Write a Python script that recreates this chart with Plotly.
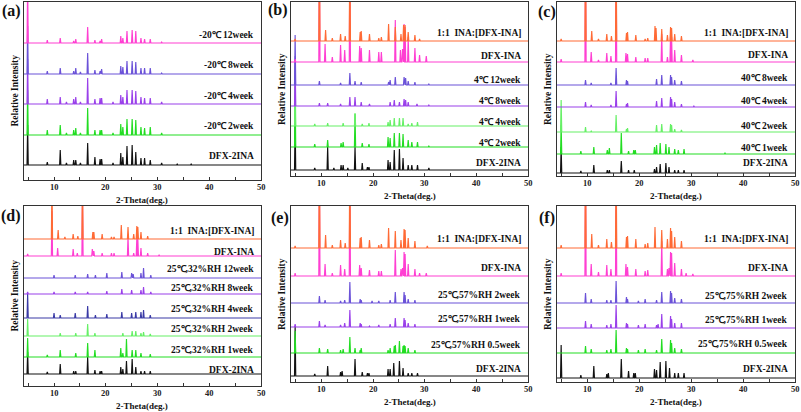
import plotly.graph_objects as go

W, H = 801, 412
FONT = "Liberation Serif"
XMIN, XMAX = 4.1, 50
TICK_LABELS = [10, 20, 30, 40, 50]

# ---------------- data: (2-theta, relative intensity) peaks ----------------
# panel (a)
a_dfx2ina = [(4.9,40),(8.7,3),(11.2,15),(12.4,2),(13.8,5),(14.2,5),(15.1,2),(16.5,22),(17.9,8),(18.9,6),(19.2,6),(21.4,2),(22.9,12),(23.3,8),(24.1,19),(25.1,20),(25.8,13),(26.8,7),(27.5,7),(28.6,5),(30.8,2),(33.8,1),(36.5,1)]
a_m20_2w = [(4.9,45),(8.7,5),(11.2,10),(12.4,2),(13.8,5),(14.2,7),(15.1,2),(16.5,27),(17.9,5),(18.9,5),(19.2,5),(21.4,2),(22.9,11),(23.3,8),(24.1,16),(25.1,16),(25.8,15),(26.8,8),(27.5,7),(28.6,8),(30.8,2)]
a_m20_4w = [(4.9,45),(8.7,5),(11.2,7),(12.4,2),(13.8,5),(14.2,7),(15.1,2),(16.5,26),(17.9,5),(18.9,6),(19.2,6),(21.4,2),(22.9,9),(23.3,7),(24.1,14),(25.1,14),(25.8,13),(26.8,7),(27.5,6),(28.6,6),(30.8,2)]
a_m20_8w = [(4.9,48),(8.7,3),(11.2,6),(13.8,3),(14.2,6),(15.1,2),(16.5,21),(17.9,4),(18.9,3),(19.2,5),(22.9,8),(23.3,7),(24.1,13),(25.1,13),(25.8,12),(26.8,6),(27.5,6),(28.6,6),(30.8,1)]
a_m20_12w = [(4.9,60),(8.7,3),(11.2,5),(13.8,2),(14.2,4),(16.5,16),(17.9,3),(18.9,2),(19.2,4),(22.9,7),(23.3,5),(24.1,12),(25.1,13),(25.8,12),(26.8,5),(27.5,4),(28.6,4),(30.8,1)]
a_labels = ["DFX-2INA", "-20℃ 2week", "-20℃ 4week", "-20℃ 8week", "-20℃ 12week"]

# panel (b)
b_dfx2ina = [(4.9,50),(8.7,2),(11.2,23),(12.4,2),(13.8,5),(14.2,5),(15.1,2),(16.5,23),(17.9,7),(18.9,3),(19.2,3),(22.9,10),(23.3,8),(24.1,20),(25.1,21),(25.8,12),(26.8,5),(27.5,5),(28.6,5),(30.8,2)]
b_4c_2w = [(4.9,60),(8.7,3),(11.2,7),(13.8,4),(14.2,5),(16.5,33),(17.9,4),(19.2,3),(22.9,10),(23.3,9),(24.1,14),(25.1,14),(25.8,13),(26.8,7),(27.5,5),(28.6,5),(30.8,1)]
b_4c_4w = [(4.9,60),(8.7,2),(11.2,3),(14.2,3),(16.5,13),(17.9,2),(19.2,3),(22.9,4),(23.3,6),(24.1,8),(25.1,8),(25.8,8),(26.8,2),(27.5,3),(28.6,4)]
b_4c_8w = [(4.9,50),(9.6,3),(11.2,3),(13.7,2),(15.5,9),(16.5,9),(17.7,4),(19.3,2),(23.3,4),(24.1,6),(25.1,4),(26.0,7),(26.3,6),(26.8,4),(28.5,2),(30.8,1)]
b_4c_12w = [(4.9,50),(9.6,4),(13.7,2),(15.5,12),(16.5,4),(17.7,3),(23.0,3),(23.3,5),(24.3,8),(26.0,8),(26.3,7),(26.8,4),(28.1,3),(30.8,1)]
b_dfxina = [(4.9,3),(9.6,100),(10.7,18),(12.1,5),(13.7,17),(14.5,12),(15.5,100),(17.4,16),(17.7,14),(19.3,12),(21.1,10),(21.6,10),(24.3,42),(25.3,12),(25.7,13),(26.0,38),(26.2,35),(26.8,25),(28.1,14),(29.0,7),(30.3,6)]
b_ina_11 = [(4.9,2),(9.6,100),(10.8,11),(12.1,3),(13.7,7),(14.6,5),(15.5,100),(17.5,9),(17.7,10),(19.3,7),(21.1,3),(21.6,4),(23.0,17),(24.3,14),(25.4,7),(25.9,16),(26.2,16),(26.8,9),(28.1,6),(29.0,2)]
b_labels = ["DFX-2INA", "4℃ 2week", "4℃ 4week", "4℃ 8week", "4℃ 12week", "DFX-INA", "1:1\u00a0 INA:[DFX-INA]"]

# panel (c)
c_dfx2ina = [(4.9,26),(8.7,2),(11.2,8),(13.8,3),(14.2,3),(16.5,12),(17.9,3),(19.0,3),(22.9,4),(23.3,6),(24.0,9),(25.1,10),(25.7,6),(26.8,3),(27.5,3),(28.6,3)]
c_40c_1w = [(4.9,29),(8.7,3),(11.2,7),(13.8,4),(14.2,6),(16.5,21),(17.9,3),(18.9,4),(19.2,4),(22.9,7),(23.3,9),(24.0,11),(25.1,10),(25.7,7),(26.8,5),(27.5,4),(28.6,5),(36.5,1)]
c_40c_2w = [(4.9,32),(9.6,5),(10.7,1),(15.5,17),(17.5,3),(17.7,4),(23.3,7),(24.3,8),(26.0,8),(26.2,7),(26.8,3),(28.1,2)]
c_40c_4w = [(9.6,5),(10.7,2),(14.5,2),(15.5,16),(17.5,3),(17.7,4),(23.3,6),(24.3,9),(26.0,10),(26.2,8),(26.8,5),(28.1,3),(30.5,1)]
c_40c_8w = [(9.6,5),(10.7,2),(14.5,2),(15.5,17),(17.5,5),(17.7,4),(23.3,6),(24.3,10),(26.0,10),(26.2,8),(26.8,5),(28.1,4)]
c_dfxina = [(4.9,3),(9.6,100),(10.7,10),(12.1,2),(13.7,9),(14.5,6),(15.5,100),(17.4,9),(17.7,8),(19.3,5),(21.1,4),(21.6,4),(24.3,28),(25.4,5),(26.0,27),(26.2,25),(26.8,12),(28.1,7),(30.3,2)]
c_ina_11 = [(4.9,2),(9.6,100),(10.8,10),(12.1,2),(13.7,7),(14.6,5),(15.5,100),(17.5,8),(17.7,9),(19.3,6),(21.1,2),(21.6,3),(23.0,15),(23.2,13),(24.3,12),(25.4,6),(26.0,14),(26.2,13),(26.8,7),(28.1,5)]
c_labels = ["DFX-2INA", "40℃ 1week", "40℃ 2week", "40℃ 4week", "40℃ 8week", "DFX-INA", "1:1\u00a0 INA:[DFX-INA]"]

# panel (d)
d_dfx2ina = [(4.9,22),(8.7,2),(11.2,10),(13.8,3),(14.2,3),(16.5,17),(17.9,4),(18.9,3),(19.2,3),(22.9,7),(23.3,5),(24.0,13),(25.1,15),(25.8,7),(26.8,3),(27.5,3),(28.6,3)]
d_32_1w = [(4.9,19),(8.7,2),(11.2,7),(14.2,4),(16.5,14),(17.9,7),(22.9,9),(23.3,4),(24.0,18),(25.1,7),(25.8,7),(26.8,4),(28.6,3)]
d_32_2w = [(4.9,17),(11.2,3),(14.2,3),(16.5,12),(17.9,3),(23.3,3),(25.1,5),(25.8,5),(26.8,3),(27.3,4),(28.6,2)]
d_32_4w = [(4.9,24),(10.0,5),(11.2,3),(14.1,5),(16.5,12),(18.0,3),(20.2,4),(23.1,6),(25.0,5),(25.8,6),(26.8,6),(27.3,8),(28.6,3)]
d_32_8w = [(4.9,2),(10.0,2),(14.1,2),(16.5,2),(20.2,3),(23.1,5),(25.0,4),(26.8,4),(27.3,7),(28.7,2)]
d_32_12w = [(10.0,3),(14.1,3),(16.5,4),(18.0,3),(20.2,5),(23.1,6),(25.0,5),(25.3,4),(26.8,5),(27.3,10),(28.7,3)]
d_dfxina = [(4.9,2),(9.6,45),(10.7,8),(13.7,7),(14.5,3),(15.5,60),(17.4,7),(17.7,5),(19.3,3),(21.1,3),(21.6,3),(24.3,20),(25.4,3),(26.0,18),(26.2,17),(26.8,8),(28.1,3),(30.3,1)]
d_ina_11 = [(9.6,60),(10.8,9),(12.1,2),(13.7,5),(14.6,3),(15.5,60),(17.5,7),(17.7,7),(19.3,5),(21.1,2),(21.6,2),(23.0,14),(24.3,12),(25.4,5),(26.0,13),(26.2,12),(26.8,7),(28.1,3)]
d_labels = ["DFX-2INA", "25℃,32%RH 1week", "25℃,32%RH 2week", "25℃,32%RH 4week", "25℃,32%RH 8week",
            "25℃,32%RH 12week", "DFX-INA", "1:1\u00a0 INA:[DFX-INA]"]

# panel (e)
e_dfx2ina = [(4.9,50),(8.7,2),(11.2,10),(13.7,4),(14.0,5),(16.5,17),(17.9,4),(18.9,3),(19.2,3),(22.9,7),(23.3,7),(24.0,13),(25.1,15),(25.8,8),(26.8,3),(27.5,3),(28.6,3)]
e_57_05w = [(4.9,22),(9.6,5),(11.2,4),(13.7,3),(14.2,4),(15.5,16),(16.5,5),(17.5,3),(17.7,5),(22.9,3),(23.3,5),(24.1,7),(24.3,8),(25.1,12),(25.8,7),(26.0,8),(26.2,7),(26.8,5),(28.1,3)]
e_57_1w = [(4.9,3),(9.6,6),(10.7,2),(13.7,2),(14.5,4),(15.5,17),(17.5,4),(17.7,3),(19.3,1),(21.1,2),(23.3,3),(24.3,9),(26.0,9),(26.2,7),(26.8,4),(28.1,3)]
e_57_2w = [(9.6,7),(10.7,3),(13.7,2),(14.5,3),(15.5,21),(17.5,4),(17.7,3),(19.8,2),(21.1,2),(23.3,3),(24.3,11),(26.0,11),(26.2,8),(26.8,4),(28.1,3)]
e_dfxina = [(4.9,3),(9.6,100),(10.7,12),(12.1,3),(13.7,11),(14.5,7),(15.5,100),(17.4,11),(17.7,8),(19.3,6),(21.1,5),(21.6,5),(24.3,26),(25.4,7),(25.7,8),(26.0,24),(26.2,22),(26.8,12),(28.1,7),(29.0,3),(30.3,3)]
e_ina_11 = [(4.9,2),(9.6,100),(10.8,13),(12.1,3),(13.7,8),(14.6,5),(15.5,100),(17.5,10),(17.7,11),(19.3,8),(21.1,3),(21.6,4),(23.0,20),(24.3,17),(25.4,8),(26.0,19),(26.2,18),(26.8,10),(28.1,7),(30.5,2)]
e_labels = ["DFX-2INA", "25℃,57%RH 0.5week", "25℃,57%RH 1week", "25℃,57%RH 2week", "DFX-INA", "1:1\u00a0 INA:[DFX-INA]"]

# panel (f)
f_dfx2ina = [(4.9,33),(8.7,3),(11.2,12),(13.7,4),(14.0,5),(16.5,19),(17.9,7),(18.9,5),(19.2,5),(22.9,9),(23.3,8),(24.0,16),(25.1,17),(25.8,10),(26.8,5),(27.5,5),(28.6,5)]
f_75_05w = [(9.6,7),(10.7,4),(13.7,3),(14.5,4),(15.5,23),(17.5,5),(17.7,4),(19.8,3),(21.1,4),(23.3,3),(24.3,14),(26.0,13),(26.2,10),(26.8,5),(28.1,4)]
f_75_1w = [(9.6,7),(10.7,4),(13.7,3),(14.5,4),(15.5,23),(17.5,5),(17.7,4),(19.8,3),(21.1,4),(23.3,3),(23.6,4),(24.3,14),(26.0,12),(26.2,9),(26.8,5),(28.1,5)]
f_75_2w = [(9.6,10),(10.7,4),(13.7,3),(14.5,3),(15.5,22),(17.5,6),(17.7,4),(19.8,2),(21.1,4),(23.3,3),(24.3,11),(26.0,12),(26.2,10),(26.8,5),(28.1,4)]
f_dfxina = [(4.9,3),(9.6,100),(10.7,12),(12.1,4),(13.7,11),(14.5,7),(15.5,100),(17.4,12),(17.7,9),(19.3,7),(21.1,5),(21.6,6),(24.3,35),(25.4,7),(25.7,8),(26.0,24),(26.2,23),(26.8,13),(28.1,7),(29.0,3),(30.3,2)]
f_ina_11 = [(4.9,3),(9.6,100),(10.8,14),(12.1,3),(13.7,9),(14.6,6),(15.5,100),(17.5,11),(17.7,12),(19.3,9),(21.1,4),(21.6,5),(23.0,21),(24.3,18),(25.4,9),(26.0,20),(26.2,17),(26.8,11),(28.1,7)]
f_labels = ["DFX-2INA", "25℃,75%RH 0.5week", "25℃,75%RH 1week", "25℃,75%RH 2week", "DFX-INA", "1:1\u00a0 INA:[DFX-INA]"]

# ---------------- styles / layout ----------------
BLACK, GREEN, LGREEN = "#111111", "#22dd22", "#66f066"
PURPLE, BVIOLET, NAVY = "#9a40ea", "#6b52d8", "#3a3aa6"
PINK, ORANGE = "#ff3fd2", "#ff6a35"

PANELS = [
    dict(tag="(a)", box=(23.5, 2, 261, 180), tagpos=(11, 11),
         series=[a_dfx2ina, a_m20_2w, a_m20_4w, a_m20_8w, a_m20_12w], labels=a_labels,
         colors=[BLACK, GREEN, PURPLE, BVIOLET, PINK],
         offsets=[15, 45, 76, 106, 137], lab=[24, 54, 84, 115, 145]),
    dict(tag="(b)", box=(291, 2, 528, 176), tagpos=(278, 10),
         series=[b_dfx2ina, b_4c_2w, b_4c_4w, b_4c_8w, b_4c_12w, b_dfxina, b_ina_11], labels=b_labels,
         colors=[BLACK, GREEN, LGREEN, PURPLE, BVIOLET, PINK, ORANGE],
         offsets=[6, 29, 50, 70, 91, 114, 135], lab=[13, 33, 54, 75, 96, 120, 143]),
    dict(tag="(c)", box=(557, 2, 795, 176), tagpos=(547, 12),
         series=[c_dfx2ina, c_40c_1w, c_40c_2w, c_40c_4w, c_40c_8w, c_dfxina, c_ina_11], labels=c_labels,
         colors=[BLACK, GREEN, LGREEN, PURPLE, BVIOLET, PINK, ORANGE],
         offsets=[3, 22, 44, 69, 91, 114, 135], lab=[13, 28, 50, 75, 98, 121, 143]),
    dict(tag="(d)", box=(23.5, 206, 261, 386), tagpos=(11, 216),
         series=[d_dfx2ina, d_32_1w, d_32_2w, d_32_4w, d_32_8w, d_32_12w, d_dfxina, d_ina_11], labels=d_labels,
         colors=[BLACK, GREEN, LGREEN, NAVY, PURPLE, BVIOLET, PINK, ORANGE],
         offsets=[12, 29, 50, 68, 92, 108, 130, 147], lab=[16, 36, 57, 77, 98, 117, 134, 155]),
    dict(tag="(e)", box=(291, 206, 528, 382), tagpos=(280, 218),
         series=[e_dfx2ina, e_57_05w, e_57_1w, e_57_2w, e_dfxina, e_ina_11], labels=e_labels,
         colors=[BLACK, GREEN, PURPLE, BVIOLET, PINK, ORANGE],
         offsets=[6, 29, 55, 79, 106, 134], lab=[13, 37, 63, 87, 114, 143]),
    dict(tag="(f)", box=(557, 206, 795, 382), tagpos=(547, 218),
         series=[f_dfx2ina, f_75_05w, f_75_1w, f_75_2w, f_dfxina, f_ina_11], labels=f_labels,
         colors=[BLACK, GREEN, PURPLE, BVIOLET, PINK, ORANGE],
         offsets=[4, 29, 54, 79, 106, 134], lab=[13, 38, 62, 86, 114, 143]),
]

HALF_WIDTH = 0.12  # half base-width of a drawn peak, in degrees


def profile(peaks, offset):
    xs, ys = [XMIN], [offset]
    for pos, h in sorted(peaks):
        xs += [pos - HALF_WIDTH, pos, pos + HALF_WIDTH]
        ys += [offset, offset + h, offset]
    xs.append(XMAX)
    ys.append(offset)
    return xs, ys


fig = go.Figure()
annotations = []
layout = dict(
    width=W, height=H, margin=dict(l=0, r=0, t=0, b=0),
    paper_bgcolor="white", plot_bgcolor="white", showlegend=False,
    font=dict(family=FONT, color="#111111"),
)

for i, p in enumerate(PANELS, start=1):
    l, t, r, b = p["box"]
    sfx = "" if i == 1 else str(i)
    layout["xaxis" + sfx] = dict(
        domain=[l / W, r / W], range=[XMIN, XMAX], anchor="y" + sfx,
        showline=True, mirror=True, linecolor="#333333", linewidth=1,
        showgrid=False, zeroline=False, ticks="inside", ticklen=3, tickcolor="#333333",
        tick0=0, dtick=10, showticklabels=False,
        minor=dict(dtick=5, tick0=0, ticks="inside", ticklen=3, tickcolor="#333333"),
    )
    layout["yaxis" + sfx] = dict(
        domain=[1 - b / H, 1 - t / H], range=[0, b - t], anchor="x" + sfx,
        showline=True, mirror=True, linecolor="#333333", linewidth=1,
        showgrid=False, zeroline=False, showticklabels=False, ticks="",
    )
    for peaks, off, col in zip(p["series"], p["offsets"], p["colors"]):
        xs, ys = profile(peaks, off)
        fig.add_trace(go.Scatter(x=xs, y=ys, mode="lines", line=dict(color=col, width=1.15),
                                 xaxis="x" + sfx, yaxis="y" + sfx, hoverinfo="skip"))
    for txt, ly in zip(p["labels"], p["lab"]):
        annotations.append(dict(text="<b>%s</b>" % txt, xref="x" + sfx, yref="y" + sfx,
                                x=XMAX, y=ly, xanchor="right", yanchor="middle", xshift=-5,
                                showarrow=False, font=dict(family=FONT, size=9.5, color="#111111")))
    for v in TICK_LABELS:
        annotations.append(dict(text="<b>%d</b>" % v, xref="x" + sfx, yref="paper",
                                x=v, y=1 - (b + 6.5) / H, xanchor="center", yanchor="middle",
                                showarrow=False, font=dict(family=FONT, size=8.5, color="#222222")))
    annotations.append(dict(text="<b>2-Theta(deg.)</b>", xref="paper", yref="paper",
                            x=(l + r) / 2 / W, y=1 - (b + 19.5) / H, xanchor="center", yanchor="middle",
                            showarrow=False, font=dict(family=FONT, size=9, color="#111111")))
    annotations.append(dict(text="<b>Relative Intensity</b>", xref="paper", yref="paper",
                            x=(l - 9) / W, y=1 - (t + b) / 2 / H, xanchor="center", yanchor="middle",
                            textangle=-90, showarrow=False,
                            font=dict(family=FONT, size=9.5, color="#111111")))
    tx, ty = p["tagpos"]
    annotations.append(dict(text="<b>%s</b>" % p["tag"], xref="paper", yref="paper",
                            x=tx / W, y=1 - ty / H, xanchor="center", yanchor="middle",
                            showarrow=False, font=dict(family=FONT, size=16, color="#111111")))

layout["annotations"] = annotations
fig.update_layout(**layout)
fig.write_html("out.html", config={"displayModeBar": False},
               post_script="document.body.style.margin='0px';document.body.style.overflow='hidden';")
